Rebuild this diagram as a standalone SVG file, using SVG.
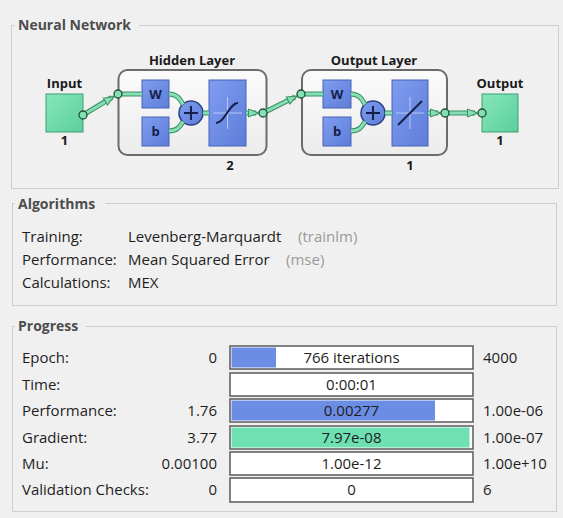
<svg xmlns="http://www.w3.org/2000/svg" width="563" height="518" viewBox="0 0 563 518">
<defs>
<style>
.t{font-family:"Open Sans","Noto Sans","Liberation Sans",sans-serif;font-size:15px;fill:#1e1e1e}
.g{fill:#9a9a9a}
.ttl{font-family:"Open Sans","Noto Sans","Liberation Sans",sans-serif;font-size:14px;font-weight:bold;fill:#4d4d4d}
.lb{font-family:"Open Sans","Noto Sans","Liberation Sans",sans-serif;font-size:13px;font-weight:bold;fill:#1a1a1a}
.wb{font-family:"Open Sans","Noto Sans","Liberation Sans",sans-serif;font-size:13px;font-weight:bold;fill:#15204a}
.panel{fill:none;stroke:#cdcdcd;stroke-width:1}
.tbg{fill:#f0f0f0}
.layer{fill:url(#gLayer);stroke:#6b6b6b;stroke-width:2}
.blue{fill:url(#gBlue);stroke:#4662b5;stroke-width:1}
.sum{fill:url(#gBlue);stroke:#2c3f80;stroke-width:1.5}
.mint{fill:url(#gMint);stroke:#3f9d72;stroke-width:1}
.xh{stroke:#c9d6ff;stroke-width:1;opacity:0.8}
.fn{fill:none;stroke:#15204a;stroke-width:2}
.wo{fill:none;stroke:#3d8e67;stroke-width:5}
.wi{fill:none;stroke:#84dfb3;stroke-width:3}
.ar{marker-end:url(#arrow)}
.port{fill:#84dfb3;stroke:#244e3a;stroke-width:1.3}
.bar{fill:#ffffff;stroke:#5a5a5a;stroke-width:1.5}
.fb{fill:#6b8de3}
.fg{fill:#6fe0b2}
</style>
<linearGradient id="gLayer" x1="0" y1="0" x2="0" y2="1"><stop offset="0" stop-color="#fbfbfb"/><stop offset="1" stop-color="#ececec"/></linearGradient>
<linearGradient id="gBlue" x1="0" y1="0" x2="1" y2="1"><stop offset="0" stop-color="#7f9df0"/><stop offset="1" stop-color="#5e7dd8"/></linearGradient>
<linearGradient id="gMint" x1="0" y1="0" x2="1" y2="1"><stop offset="0" stop-color="#86e6bb"/><stop offset="1" stop-color="#5ccf9c"/></linearGradient>
<marker id="arrow" markerUnits="userSpaceOnUse" markerWidth="12" markerHeight="10" viewBox="-1 -1 12 10" refX="10" refY="4" orient="auto" overflow="visible">
<path d="M0 0 L10 4 L0 8 Z" fill="#84dfb3" stroke="#3d8e67" stroke-width="1"/>
</marker>
</defs>
<rect x="0" y="0" width="563" height="518" fill="#f0f0f0"/>

<g id="panel-neural-network">
<rect class="panel" x="11.5" y="25.5" width="547" height="163"/>
<rect class="tbg" x="15" y="18" width="124" height="14"/>
<text class="ttl" x="18" y="30">Neural Network</text>
</g>

<g id="input">
<text class="lb" x="64.5" y="88" text-anchor="middle">Input</text>
<rect class="mint" x="46" y="94" width="37" height="38"/>
<text class="lb" x="64.5" y="145" text-anchor="middle">1</text>
</g>

<g id="hidden-layer">
<text class="lb" x="192" y="65" text-anchor="middle">Hidden Layer</text>
<rect class="layer" x="118.5" y="70" width="148" height="85" rx="9"/>
<rect class="blue" x="142" y="80" width="27" height="28"/>
<text class="wb" x="155.5" y="99" text-anchor="middle">W</text>
<rect class="blue" x="142" y="117" width="27" height="29"/>
<text class="wb" x="155.5" y="136" text-anchor="middle">b</text>
<circle class="sum" cx="191" cy="113" r="12"/>
<path class="fn" d="M184 113 H198 M191 106 V120"/>
<rect class="blue" x="209" y="80" width="37" height="66"/>
<path class="xh" d="M213 113 H242 M227.5 97 V129"/>
<path class="fn" d="M216 123 C225 123 229 103 238 103"/>
<text class="lb" x="230" y="170" text-anchor="middle">2</text>
</g>

<g id="output-layer">
<text class="lb" x="374" y="65" text-anchor="middle">Output Layer</text>
<rect class="layer" x="302" y="70" width="145" height="85" rx="9"/>
<rect class="blue" x="323" y="80" width="28" height="28"/>
<text class="wb" x="337" y="99" text-anchor="middle">W</text>
<rect class="blue" x="323" y="117" width="28" height="29"/>
<text class="wb" x="337" y="136" text-anchor="middle">b</text>
<circle class="sum" cx="373" cy="113" r="12"/>
<path class="fn" d="M366 113 H380 M373 106 V120"/>
<rect class="blue" x="392" y="80" width="36" height="66"/>
<path class="xh" d="M396 113 H424 M410 97 V129"/>
<path class="fn" d="M398 125 L422 101"/>
<text class="lb" x="410" y="170" text-anchor="middle">1</text>
</g>

<g id="output">
<text class="lb" x="500" y="88" text-anchor="middle">Output</text>
<rect class="mint" x="482" y="94" width="36" height="38"/>
<text class="lb" x="500" y="145" text-anchor="middle">1</text>
</g>

<g id="connectors">
<path class="wo" d="M83 115 L112 97.3"/>
<path class="wi ar" d="M83 115 L114 96.5"/>
<path class="wo" d="M118 94 L142 94"/><path class="wi" d="M118 94 L142 94"/>
<path class="wo" d="M169 94 C177 94 180 99 183 104.5"/><path class="wi" d="M169 94 C177 94 180 99 183 104.5"/>
<path class="wo" d="M169 131 C177 131 180 127 183 121.5"/><path class="wi" d="M169 131 C177 131 180 127 183 121.5"/>
<path class="wo" d="M203 113 L209 113"/><path class="wi" d="M203 113 L209 113"/>
<path class="wo" d="M246 113 L256 113"/><path class="wi ar" d="M246 113 L258.5 113"/>
<path class="wo" d="M263 113 L295 97"/><path class="wi ar" d="M263 113 L297 96"/>
<path class="wo" d="M301 94 L323 94"/><path class="wi" d="M301 94 L323 94"/>
<path class="wo" d="M351 94 C359 94 362 99 365 104.5"/><path class="wi" d="M351 94 C359 94 362 99 365 104.5"/>
<path class="wo" d="M351 131 C359 131 362 127 365 121.5"/><path class="wi" d="M351 131 C359 131 362 127 365 121.5"/>
<path class="wo" d="M385 113 L392 113"/><path class="wi" d="M385 113 L392 113"/>
<path class="wo" d="M428 113 L438 113"/><path class="wi ar" d="M428 113 L440.5 113"/>
<path class="wo" d="M445 113 L475 113"/><path class="wi ar" d="M445 113 L477.5 113"/>
<circle class="port" cx="83" cy="115" r="4"/>
<circle class="port" cx="118" cy="94" r="4"/>
<circle class="port" cx="263" cy="113" r="4"/>
<circle class="port" cx="301" cy="94" r="4"/>
<circle class="port" cx="445" cy="113" r="4"/>
<circle class="port" cx="482" cy="113" r="4"/>
</g>

<g id="panel-algorithms">
<rect class="panel" x="12.5" y="203.5" width="544" height="102"/>
<rect class="tbg" x="15" y="196" width="90" height="14"/>
<text class="ttl" x="18" y="209">Algorithms</text>
<text class="t" x="22" y="242">Training:</text>
<text class="t" x="128" y="242">Levenberg-Marquardt</text>
<text class="t g" x="298" y="242">(trainlm)</text>
<text class="t" x="22" y="265">Performance:</text>
<text class="t" x="128" y="265">Mean Squared Error</text>
<text class="t g" x="286" y="265">(mse)</text>
<text class="t" x="22" y="288">Calculations:</text>
<text class="t" x="128" y="288">MEX</text>
</g>

<g id="panel-progress">
<rect class="panel" x="12.5" y="326.5" width="544" height="185"/>
<rect class="tbg" x="15" y="319" width="71" height="14"/>
<text class="ttl" x="18" y="331">Progress</text>

<text class="t" x="22" y="363">Epoch:</text>
<text class="t" x="217" y="363" text-anchor="end">0</text>
<rect class="bar" x="230" y="346" width="243" height="23"/>
<rect class="fb" x="231.5" y="347.5" width="44.5" height="20"/>
<text class="t" x="351.5" y="363" text-anchor="middle">766 iterations</text>
<text class="t" x="483" y="363">4000</text>

<text class="t" x="22" y="390">Time:</text>
<rect class="bar" x="230" y="373" width="243" height="23"/>
<text class="t" x="351.5" y="390" text-anchor="middle">0:00:01</text>

<text class="t" x="22" y="416">Performance:</text>
<text class="t" x="217" y="416" text-anchor="end">1.76</text>
<rect class="bar" x="230" y="399" width="243" height="23"/>
<rect class="fb" x="231.5" y="400.5" width="203.5" height="20"/>
<text class="t" x="351.5" y="416" text-anchor="middle">0.00277</text>
<text class="t" x="483" y="416">1.00e-06</text>

<text class="t" x="22" y="443">Gradient:</text>
<text class="t" x="217" y="443" text-anchor="end">3.77</text>
<rect class="bar" x="230" y="426" width="243" height="23"/>
<rect class="fg" x="231.5" y="427.5" width="238" height="20"/>
<text class="t" x="351.5" y="443" text-anchor="middle">7.97e-08</text>
<text class="t" x="483" y="443">1.00e-07</text>

<text class="t" x="22" y="469">Mu:</text>
<text class="t" x="217" y="469" text-anchor="end">0.00100</text>
<rect class="bar" x="230" y="452" width="243" height="23"/>
<text class="t" x="351.5" y="469" text-anchor="middle">1.00e-12</text>
<text class="t" x="483" y="469">1.00e+10</text>

<text class="t" x="22" y="495">Validation Checks:</text>
<text class="t" x="217" y="495" text-anchor="end">0</text>
<rect class="bar" x="230" y="478" width="243" height="24"/>
<text class="t" x="351.5" y="495" text-anchor="middle">0</text>
<text class="t" x="483" y="495">6</text>
</g>
</svg>
